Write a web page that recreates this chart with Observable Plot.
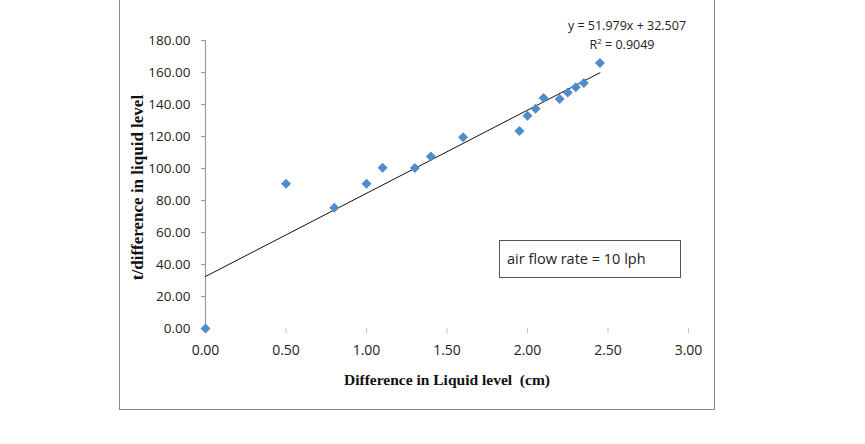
<!DOCTYPE html>
<html><head><meta charset="utf-8">
<script src="https://cdn.jsdelivr.net/npm/d3@7"></script>
<script src="https://cdn.jsdelivr.net/npm/@observablehq/plot@0.6"></script>
<style>
body{margin:0;background:#fff;}
#wrap{position:relative;width:865px;height:444px;overflow:hidden;background:#fff;}
#frame{position:absolute;left:119px;top:-3px;width:596px;height:413px;border:1.5px solid #8a8a8a;box-sizing:border-box;}
#chart{position:absolute;left:0;top:0;}
.eq{position:absolute;font-family:"Open Sans",sans-serif;font-size:12.5px;color:#222;text-align:center;white-space:nowrap;}
#note{position:absolute;left:499px;top:240px;width:182px;height:38px;border:1.2px solid #555;box-sizing:border-box;font-family:"Open Sans",sans-serif;font-size:14.5px;color:#222;line-height:36px;padding-left:7px;white-space:nowrap;}
</style></head>
<body>
<div id="wrap">
  <div id="frame"></div>
  <div id="chart"></div>
  <div class="eq" style="left:556px;top:17px;width:142px;">y = 51.979x + 32.507</div>
  <div class="eq" style="left:556px;top:36px;width:132px;">R<sup style="font-size:8px;vertical-align:5px;line-height:0">2</sup> = 0.9049</div>
  <div id="note">air flow rate = 10 lph</div>
</div>
<script>
// Data
const diffLevel = [0, 0.5, 0.8, 1.0, 1.1, 1.3, 1.4, 1.6, 1.95, 2.0, 2.05, 2.1, 2.2, 2.25, 2.3, 2.35, 2.45];
const tOverDiff = [0, 90.5, 75.5, 90.5, 100.5, 100.3, 107.5, 119.5, 123.5, 133, 137.3, 144, 143.5, 147.5, 150.8, 153.5, 166];
const xTicks = [0, 0.5, 1.0, 1.5, 2.0, 2.5, 3.0];
const yTicks = [0, 20, 40, 60, 80, 100, 120, 140, 160, 180];
// Linear trendline as reported on the chart
const slope = 51.979, intercept = 32.507;
const trendX = [0, 2.45];

const points = diffLevel.map((x, i) => ({x, y: tOverDiff[i]}));
const trend = trendX.map(x => ({x, y: slope * x + intercept}));
const fmt = d3.format(".2f");

const chart = Plot.plot({
  width: 865,
  height: 444,
  marginLeft: 205,
  marginRight: 177,
  marginTop: 40,
  marginBottom: 116,
  style: {background: "transparent", fontFamily: "'Open Sans', sans-serif"},
  x: {type: "linear", domain: [0, 3]},
  y: {type: "linear", domain: [0, 180]},
  marks: [
    Plot.axisY({ticks: yTicks, tickFormat: fmt, tickSize: 4, tickPadding: 11, fontSize: 13.5, stroke: "#9a9a9a", color: "#222", label: null}),
    Plot.axisX({ticks: xTicks, tickFormat: fmt, tickSize: 5, tickPadding: 12, fontSize: 14, stroke: "#c4c4c4", color: "#222", label: null}),
    Plot.ruleX([0], {y1: 0, y2: 180, stroke: "#9a9a9a", strokeWidth: 1.2}),
    Plot.line(trend, {x: "x", y: "y", stroke: "#111", strokeWidth: 1}),
    Plot.dot(points, {x: "x", y: "y", symbol: "diamond2", r: 4.5, fill: "#4f8ccc", stroke: "none"}),
    Plot.text(["t/difference in liquid level"], {frameAnchor: "left", textAnchor: "middle", dx: -68, dy: 3, rotate: -90, fontFamily: "'Liberation Serif', serif", fontWeight: "bold", fontSize: 17, fill: "#111"}),
    Plot.text(["Difference in Liquid level  (cm)"], {frameAnchor: "bottom", textAnchor: "middle", dy: 56, fontFamily: "'Liberation Serif', serif", fontWeight: "bold", fontSize: 15.5, fill: "#111"})
  ]
});
document.getElementById("chart").appendChild(chart);
</script>
</body></html>
